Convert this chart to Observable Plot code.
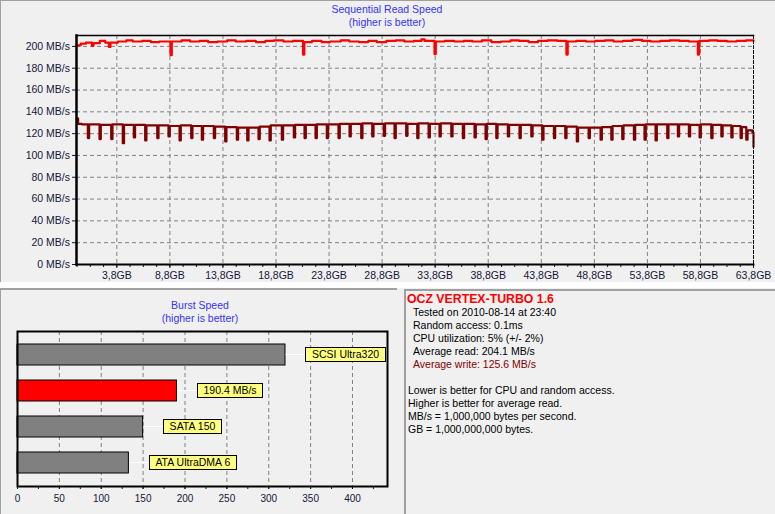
<!DOCTYPE html>
<html><head><meta charset="utf-8">
<script src="https://cdn.jsdelivr.net/npm/d3@7"></script>
<script src="https://cdn.jsdelivr.net/npm/@observablehq/plot@0.6"></script>
<style>
body{margin:0;background:#f0f0f0;font-family:"Liberation Sans",Arial,sans-serif;}
#root{position:relative;width:775px;height:514px;overflow:hidden;background:#f0f0f0;}
.abs{position:absolute;}
.ttl{color:#3333ff;font-size:10.5px;line-height:13px;text-align:center;white-space:pre;}
.info{font-size:10.5px;line-height:12.9px;color:#000;white-space:pre;}
</style></head><body><div id="root">
<div class="abs" style="left:0;top:0;width:775px;height:1px;background:#a0a0a0"></div>
<div class="abs" style="left:0;top:0;width:1px;height:282px;background:#a0a0a0"></div>
<div class="abs" style="left:0;top:282px;width:775px;height:6px;background:#ffffff"></div>
<div class="abs" style="left:0;top:288px;width:397px;height:2px;background:#a0a0a0"></div>
<div class="abs" style="left:0;top:288px;width:1px;height:226px;background:#a0a0a0"></div>
<div class="abs" style="left:404px;top:289px;width:371px;height:2px;background:#a0a0a0"></div>
<div class="abs" style="left:404px;top:289px;width:2px;height:225px;background:#a0a0a0"></div>
<div id="topchart" class="abs" style="left:0;top:0"></div>
<div id="burstchart" class="abs" style="left:0;top:287px"></div>
<div id="topTitle" class="abs ttl" style="left:287px;top:2.7px;width:200px"></div>
<div id="burstTitle" class="abs ttl" style="left:100px;top:299px;width:200px"></div>
<div id="driveTitle" class="abs" style="left:407px;top:291.7px;font-size:12.3px;line-height:14px;font-weight:bold;color:#ff0000;white-space:pre"></div>
<div id="stats" class="abs info" style="left:413px;top:306px"></div>
<div id="notes" class="abs info" style="left:408px;top:384px"></div>
</div>
<script>
// ---------- data ----------
const chartTitle = "Sequential Read Speed";
const chartSubtitle = "(higher is better)";
const burstTitle = "Burst Speed";
const driveName = "OCZ VERTEX-TURBO 1.6";
const statLines = ["Tested on 2010-08-14 at 23:40", "Random access: 0.1ms", "CPU utilization: 5% (+/- 2%)", "Average read: 204.1 MB/s", "Average write: 125.6 MB/s"];
const noteLines = ["Lower is better for CPU and random access.", "Higher is better for average read.", "MB/s = 1,000,000 bytes per second.", "GB = 1,000,000,000 bytes."];

const yTicks = [0, 20, 40, 60, 80, 100, 120, 140, 160, 180, 200];
const xTicks = [3.8, 8.8, 13.8, 18.8, 23.8, 28.8, 33.8, 38.8, 43.8, 48.8, 53.8, 58.8, 63.8];
const xMax = 63.8, yMax = 210;

// read speed samples [GB, MB/s]
const readSpeed = [[0,201],[0.4,202.5],[0.9,203.5],[1.45,200.5],[1.6,203],[2.2,205],[2.7,203.5],[3.05,199.5],[3.2,203.5],[3.9,204.5],[4.7,205.5],[5.3,204.5],[6.2,205],[7.0,204],[7.8,204.5],[8.86,192],[8.98,204.5],[9.9,205.5],[10.7,204.5],[11.6,205],[12.4,204],[13.3,204.5],[14.2,205.5],[15.0,204.5],[16.0,205],[16.9,204],[17.8,205],[18.6,205.5],[19.5,204.5],[20.4,205],[21.35,192.5],[21.47,204],[22.2,205],[23.1,204],[23.9,204.5],[24.9,205.5],[25.7,204.5],[26.6,204],[27.5,205],[28.3,204],[29.2,205],[30.1,205.5],[30.9,204.5],[31.8,205],[32.5,206.5],[32.8,205],[33.74,193],[33.86,204.5],[34.7,205],[35.6,204.5],[36.5,205],[37.3,204.5],[38.2,205.5],[39.1,204],[40.0,204.5],[40.9,205.5],[41.7,205],[42.6,204],[43.5,205],[44.4,205.5],[45.3,205],[46.17,192.5],[46.29,204.5],[47.1,205],[48.0,204.5],[48.9,205],[49.8,205.5],[50.6,204.5],[51.5,205],[52.4,206],[53.3,205],[54.1,204.5],[55.0,205],[55.9,205.5],[56.8,205],[57.7,204.5],[58.56,192.5],[58.68,205],[59.6,205.5],[60.4,205],[61.3,204.5],[62.2,205],[63.1,205.5],[63.8,205]];

// write speed samples [GB, MB/s]
const writeSpeed = [[0,134],[0.15,129],[0.5,128.5],
[1.07,115.9],[1.19,128.5],[2.17,115.0],[2.29,128],[3.27,115.0],[3.39,128.5],[4.36,111.3],[4.48,128],
[5.40,116.5],[5.52,128],[6.47,113.8],[6.59,127.5],[7.61,115.9],[7.73,127.5],[8.67,117.4],[8.79,127],
[9.71,113.8],[9.83,127.5],[10.81,115.9],[10.93,127],[11.81,114.4],[11.93,127],[12.94,115.9],[13.06,126.5],
[14.01,112.8],[14.13,126],[15.11,114.4],[15.23,125.5],[16.09,113.8],[16.21,125.5],[17.15,115.0],[17.27,126.5],
[18.19,113.8],[18.31,127.5],[19.35,114.4],[19.47,127.5],[20.48,116.5],[20.60,128],[21.49,115.9],[21.61,128],
[22.53,115.9],[22.65,128.5],[23.59,115.9],[23.71,128.5],[24.69,115.9],[24.81,129],[25.73,117.4],[25.85,129],
[26.83,115.9],[26.95,129.5],[27.87,117.4],[27.99,129],[28.96,118.0],[29.08,129.5],[29.97,115.9],[30.09,129.5],
[31.07,118.0],[31.19,129],[32.11,115.9],[32.23,129.5],[33.18,116.5],[33.30,129],[34.21,117.4],[34.33,129.5],
[35.32,117.4],[35.44,129],[36.41,115.9],[36.53,129],[37.51,116.5],[37.63,128.5],[38.55,115.0],[38.67,129],
[39.56,115.9],[39.68,128.5],[40.65,117.4],[40.77,128],[41.75,115.9],[41.87,128],[42.86,117.4],[42.98,127.5],
[43.89,114.4],[44.01,127],[44.99,115.9],[45.11,127],[46.06,115.9],[46.18,126.5],[47.15,112.8],[47.27,125.5],
[48.26,115.9],[48.38,125.5],[49.39,114.4],[49.51,126],[50.40,114.4],[50.52,127],[51.43,115.0],[51.55,127.5],
[52.53,114.4],[52.65,128],[53.53,114.4],[53.65,128.5],[54.57,113.8],[54.69,128.5],[55.67,115.9],[55.79,128.5],
[56.67,117.4],[56.79,128.5],[57.71,117.4],[57.83,128],[58.72,116.5],[58.84,128.5],[59.82,115.9],[59.94,128],
[60.77,117.4],[60.89,127.5],[61.71,116.5],[61.83,127],[62.58,115.9],[62.70,126],[63.12,114.4],[63.24,123],
[63.7,121],[63.8,108]];

const burstNames = ["SCSI Ultra320", driveName, "SATA 150", "ATA UltraDMA 6"];
const burstValues = [320, 190.4, 150, 133];
const burstTicks = [0, 50, 100, 150, 200, 250, 300, 350, 400];
const burstMax = 441.8;

// ---------- styles ----------
const font = "'Liberation Sans', Arial, sans-serif";
const axisColor = "#16163a";
const gridStyle = {stroke: "#808080", strokeOpacity: 1, strokeDasharray: "4,3"};

// ---------- text ----------
document.getElementById("topTitle").textContent = chartTitle + "\n" + chartSubtitle;
document.getElementById("burstTitle").textContent = burstTitle + "\n" + chartSubtitle;
document.getElementById("driveTitle").textContent = driveName;
const stats = document.getElementById("stats");
statLines.forEach((s, i) => {
  const d = document.createElement("div");
  d.textContent = s;
  if (i === statLines.length - 1) d.style.color = "#800000";
  stats.appendChild(d);
});
document.getElementById("notes").textContent = noteLines.join("\n");

// ---------- top chart ----------
const readData = readSpeed.map(([gb, mbs]) => ({gb, mbs}));
const writeData = writeSpeed.map(([gb, mbs]) => ({gb, mbs}));
const xMinor = d3.range(0.05, xMax + 0.01, 1.25);
const fmtGB = d => d.toFixed(1).replace(".", ",") + "GB";

const topPlot = Plot.plot({
  width: 775, height: 283,
  marginLeft: 76, marginRight: 22, marginTop: 35, marginBottom: 19,
  x: {domain: [0, xMax], label: null},
  y: {domain: [0, yMax], label: null},
  style: {background: "transparent", fontFamily: font, fontSize: "10.5px", color: axisColor, overflow: "visible"},
  marks: [
    Plot.gridY(yTicks.slice(1), gridStyle),
    Plot.gridX(xTicks.slice(0, -1), gridStyle),
    Plot.line(writeData, {x: "gb", y: "mbs", curve: "step-after", stroke: "#800000", strokeWidth: 2.2}),
    Plot.line(readData, {x: "gb", y: "mbs", curve: "step-after", stroke: "#ff0000", strokeWidth: 2.2}),
    Plot.axisY(yTicks, {tickSize: 4, tickPadding: 2.5, tickFormat: d => `${d} MB/s`, label: null}),
    Plot.axisX(xMinor, {tickSize: 3, tickFormat: () => "", label: null}),
    Plot.axisX(xTicks, {tickSize: 4, tickPadding: 3, tickFormat: fmtGB, label: null}),
    Plot.frame({anchor: "top", stroke: "#000", strokeWidth: 1.5}),
    Plot.frame({anchor: "right", stroke: "#000", strokeDasharray: "3,2"}),
    Plot.frame({anchor: "bottom", stroke: "#000", strokeWidth: 2}),
    Plot.frame({anchor: "left", stroke: "#000", strokeWidth: 2.5})
  ]
});
document.getElementById("topchart").appendChild(topPlot);

// ---------- burst chart ----------
const burstRows = burstNames.map((name, i) => ({
  name, value: burstValues[i],
  label: name === driveName ? `${burstValues[i]} MB/s` : name
}));
const burstMinor = d3.range(25, burstMax, 25);

const burstPlot = Plot.plot({
  width: 400, height: 227,
  marginLeft: 17, marginRight: 13, marginTop: 44, marginBottom: 28,
  x: {domain: [0, burstMax], label: null},
  y: {domain: burstNames, paddingInner: 0.43, paddingOuter: 0.32, axis: null, label: null},
  color: {type: "identity"},
  style: {background: "transparent", fontFamily: font, fontSize: "10px", color: axisColor, overflow: "visible"},
  marks: [
    Plot.gridX(burstTicks.slice(1), gridStyle),
    Plot.barX(burstRows, {x: "value", y: "name", fill: d => d.name === driveName ? "#ff0000" : "#808080", stroke: "#000", strokeWidth: 1}),
    Plot.text(burstRows, {x: "value", y: "name", text: "label", textAnchor: "start", lineAnchor: "middle", dx: 26.5, fill: "#000", fontSize: 10.5}),
    Plot.axisX(burstMinor, {tickSize: 3, tickFormat: () => "", label: null}),
    Plot.axisX(burstTicks, {tickSize: 3, tickPadding: 5, label: null}),
    Plot.frame({stroke: "#000", strokeWidth: 2})
  ]
});
document.getElementById("burstchart").appendChild(burstPlot);

// yellow label boxes with white connectors
(function decorate(svg) {
  const ns = "http://www.w3.org/2000/svg";
  const sr = svg.getBoundingClientRect();
  const textG = svg.querySelector('g[aria-label="text"]');
  if (!textG) return;
  const layer = document.createElementNS(ns, "g");
  textG.querySelectorAll("text").forEach(t => {
    const b = t.getBoundingClientRect();
    const x = b.left - sr.left, y = b.top - sr.top;
    const cy = Math.round(y + b.height / 2);
    const left = Math.round(x - 6.5) + 0.5;
    const right = Math.round(x + b.width + 5.5) + 0.5;
    const line = document.createElementNS(ns, "line");
    line.setAttribute("x1", left - 20); line.setAttribute("x2", left);
    line.setAttribute("y1", cy + 0.5); line.setAttribute("y2", cy + 0.5);
    line.setAttribute("stroke", "#ffffff");
    layer.appendChild(line);
    const r = document.createElementNS(ns, "rect");
    r.setAttribute("x", left); r.setAttribute("y", cy - 7 + 0.5);
    r.setAttribute("width", right - left); r.setAttribute("height", 14);
    r.setAttribute("fill", "#ffff80"); r.setAttribute("stroke", "#000");
    layer.appendChild(r);
  });
  svg.insertBefore(layer, textG);
})(burstPlot);
</script>
</body></html>
